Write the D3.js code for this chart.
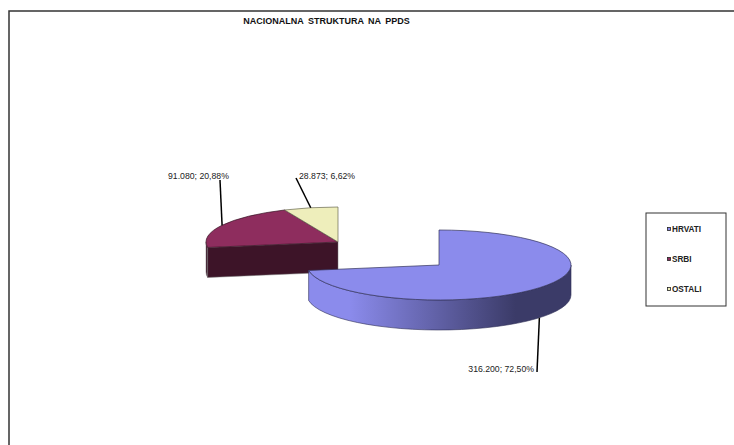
<!DOCTYPE html>
<html>
<head>
<meta charset="utf-8">
<script src="https://cdn.jsdelivr.net/npm/d3@7"></script>
<style>
  html, body { margin: 0; padding: 0; background: #fff; }
  svg { display: block; }
  text { font-family: "Liberation Sans", Arial, sans-serif; }
</style>
</head>
<body>
<div id="chart"></div>
<script>
const categories = ["HRVATI", "SRBI", "OSTALI"];
const values = [316200, 91080, 28873];
const valueLabels = ["316.200; 72,50%", "91.080; 20,88%", "28.873; 6,62%"];
const faceColors = ["#8b8bec", "#8e2d5e", "#eeeebb"];
const wallColors = ["#3b3b68", "#3d1428", "#77775e"];

const width = 734;
const height = 445;
const rx = 132;
const ry = 35;
const depth = 30;

// blue slice sits on its own, the other two are pulled out to the upper left
const centers = [
  { x: 439, y: 265 },
  { x: 338, y: 242 },
  { x: 338, y: 242 },
];

// where each label text and the outer end of its leader line go
const labelPos = [
  { x: 534, y: 372, anchor: "end", endX: 537, endY: 372 },
  { x: 168, y: 179, anchor: "start", endX: 220, endY: 180 },
  { x: 299, y: 179, anchor: "start", endX: 296, endY: 178 },
];

const svg = d3
  .select("#chart")
  .append("svg")
  .attr("width", width)
  .attr("height", height)
  .attr("viewBox", [0, 0, width, height]);

// chart frame, runs off the right and bottom of the picture
svg
  .append("path")
  .attr("d", `M 9 ${height} V 11 H ${width}`)
  .attr("fill", "none")
  .attr("stroke", "#333")
  .attr("stroke-width", 1.5);

svg
  .append("text")
  .attr("x", 326.5)
  .attr("y", 24)
  .attr("text-anchor", "middle")
  .attr("font-size", 9)
  .attr("font-weight", "bold")
  .attr("word-spacing", 2)
  .attr("fill", "#111")
  .text("NACIONALNA STRUKTURA NA PPDS");

const gradient = svg
  .append("defs")
  .append("linearGradient")
  .attr("id", "wallgrad")
  .attr("gradientUnits", "userSpaceOnUse")
  .attr("x1", centers[0].x - rx)
  .attr("x2", centers[0].x + rx)
  .attr("y1", 0)
  .attr("y2", 0);

gradient.append("stop").attr("offset", "16%").attr("stop-color", faceColors[0]);
gradient.append("stop").attr("offset", "79%").attr("stop-color", wallColors[0]);

const slices = d3.pie().sort(null)(values);

// d3 angles start at 12 o'clock and go clockwise
function ellipsePoint(c, angle, drop = 0) {
  return [c.x + rx * Math.sin(angle), c.y - ry * Math.cos(angle) + drop];
}

const arc = d3.arc().innerRadius(0).outerRadius(rx);

// outer rim between two angles, extruded downwards
function rimPath(c, a0, a1) {
  const p0 = ellipsePoint(c, a0);
  const p1 = ellipsePoint(c, a1);
  const large = a1 - a0 > Math.PI ? 1 : 0;
  return (
    `M ${p0} A ${rx} ${ry} 0 ${large} 1 ${p1}` +
    ` v ${depth} A ${rx} ${ry} 0 ${large} 0 ${p0[0]} ${p0[1] + depth} Z`
  );
}

function drawFace(i) {
  const c = centers[i];
  svg
    .append("path")
    .attr("d", arc(slices[i]))
    .attr("transform", `translate(${c.x},${c.y}) scale(1,${ry / rx})`)
    .attr("fill", faceColors[i])
    .attr("stroke", d3.color(wallColors[i]).darker(0.4))
    .attr("stroke-width", 0.7)
    .style("vector-effect", "non-scaling-stroke");
}

/* PULLED OUT SLICES */
const redStart = slices[1].startAngle;
const redEdge = ellipsePoint(centers[1], redStart);

svg
  .append("path")
  .attr("d", rimPath(centers[1], redStart, (3 * Math.PI) / 2))
  .attr("fill", wallColors[1])
  .attr("stroke", "#777")
  .attr("stroke-width", 0.5);

// cut wall facing the viewer, from the rim back to the centre
svg
  .append("path")
  .attr(
    "d",
    `M ${redEdge} L ${centers[1].x} ${centers[1].y} v ${depth} L ${redEdge[0]} ${redEdge[1] + depth} Z`
  )
  .attr("fill", wallColors[1])
  .attr("stroke", "#777")
  .attr("stroke-width", 0.5);

drawFace(1);
drawFace(2);

/* BLUE SLICE */
svg
  .append("path")
  .attr("d", rimPath(centers[0], Math.PI / 2, slices[0].endAngle))
  .attr("fill", "url(#wallgrad)")
  .attr("stroke", "#2e2e55")
  .attr("stroke-width", 0.6);

drawFace(0);

/* LABELS */
slices.forEach((s, i) => {
  const mid = (s.startAngle + s.endAngle) / 2;
  // the front slice's leader starts at the bottom of its wall
  const start = ellipsePoint(centers[i], mid, i === 0 ? depth : 0);
  const pos = labelPos[i];

  svg
    .append("line")
    .attr("x1", start[0])
    .attr("y1", start[1])
    .attr("x2", pos.endX)
    .attr("y2", pos.endY)
    .attr("stroke", "#000")
    .attr("stroke-width", 1.5);

  svg
    .append("text")
    .attr("x", pos.x)
    .attr("y", pos.y)
    .attr("text-anchor", pos.anchor)
    .attr("font-size", 8.7)
    .attr("fill", "#222")
    .text(valueLabels[i]);
});

/* LEGEND */
svg
  .append("rect")
  .attr("x", 646)
  .attr("y", 213)
  .attr("width", 80)
  .attr("height", 93)
  .attr("fill", "#fff")
  .attr("stroke", "#333")
  .attr("stroke-width", 1);

const legendY = d3.scalePoint().domain(categories).range([229, 289]);

categories.forEach((name, i) => {
  svg
    .append("rect")
    .attr("x", 667.5)
    .attr("y", legendY(name) - 1.5)
    .attr("width", 3)
    .attr("height", 3)
    .attr("fill", faceColors[i])
    .attr("stroke", "#222")
    .attr("stroke-width", 0.8);

  svg
    .append("text")
    .attr("x", 672)
    .attr("y", legendY(name) + 2.5)
    .attr("font-size", 8.2)
    .attr("font-weight", "bold")
    .attr("fill", "#222")
    .text(name);
});
</script>
</body>
</html>
